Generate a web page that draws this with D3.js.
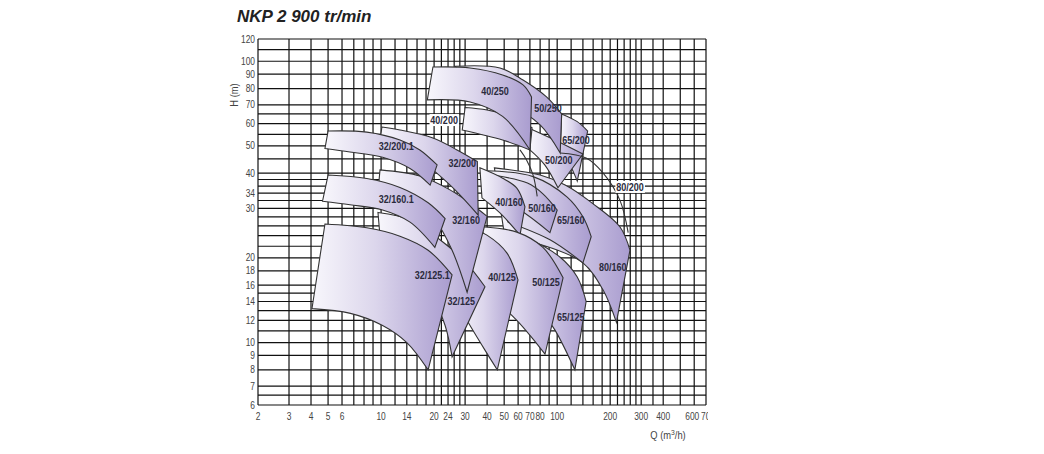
<!DOCTYPE html>
<html><head><meta charset="utf-8">
<script src="https://cdn.jsdelivr.net/npm/d3@7"></script>
<style>
body{margin:0;background:#fff;}
svg{display:block;}
</style></head><body>
<svg id="c" width="1044" height="454"></svg>
<script>
// ---------- data ----------
const title = "NKP 2 900 tr/min";
const xTickLabels = [2,3,4,5,6,10,14,20,24,30,40,50,60,70,80,100,200,300,400,600,700];
const xGrid = [2,3,4,5,6,7,8,9,10,12,14,16,18,20,22,24,26,28,30,40,50,60,70,80,90,100,120,140,160,180,200,220,240,260,280,300,350,400,500,600,700];
const yTickLabels = [6,7,8,9,10,12,14,16,18,20,30,34,40,50,60,70,80,90,100,120];
const yGrid = [6,6.5,7,8,9,10,11,12,13,14,15,16,18,20,22,24,26,28,30,32,34,36,38,40,45,50,55,60,65,70,80,90,100,110,120];

// pump tiles, in drawing order: [Q (m3/h), H (m)] along the upper and lower curves
const pumpNames = ["80/160","65/160","50/160","40/160","65/125","50/125","40/125","32/125","32/125.1",
  "32/160","32/160.1","32/200","32/200.1","65/200","50/200","40/200","50/250","40/250"];
const pumpTop = [
  [[44,41.8],[80,39.4],[111,36.3],[156,31.5],[227,25.8],[259,21.3]],
  [[39.9,40.8],[73,38.9],[114,32.9],[140,28.0],[156,23.8]],
  [[43,39.4],[67.8,36.9],[83,33.8],[100,29.6]],
  [[36.4,41.8],[49,38.4],[59,35.4],[65.6,30.4]],
  [[44.3,25.1],[70,23.2],[104,20.1],[130,17.1],[146,14.0]],
  [[37.4,25.8],[59,24.7],[83,21.8],[108,17.0]],
  [[29.2,26.2],[39.9,24.1],[51.9,20.8],[59.9,16.7]],
  [[9.6,29.0],[14.6,27.3],[21.6,23.2],[30.0,19.4],[38.9,15.8]],
  [[4.8,26.4],[8.3,25.6],[12.8,23.9],[18.5,21.3],[25.3,17.4]],
  [[9.86,41.1],[16.6,39.1],[24.6,34.9],[32.9,30.9],[40,28.1]],
  [[5.0,39.4],[8.3,38.3],[12.8,35.6],[18.5,31.4],[23.1,27.6]],
  [[10.1,58.4],[12.8,57],[19.7,53.4],[27,48.4],[35.2,44]],
  [[5.0,56.5],[8.3,56],[12.8,52.5],[16.6,48.4],[20.8,42.8]],
  [[106,65],[130,61],[149,56.5]],
  [[70.8,57.5],[97,52.5],[140,46.8]],
  [[30,68.5],[40,67.1],[56,63.3],[72,58]],
  [[26.3,96],[47.3,94.7],[64,85.8],[87,74.7],[106,65]],
  [[19.7,95.4],[32,94.7],[49,89.4],[64,82.4],[71.5,74.7]]
];
const pumpBottom = [
  [[50.5,23.5],[83,22.2],[140,19.2],[182,15.4],[217,11.8]],
  [[52.6,26.8],[91,23.2],[140,19.2]],
  [[44.3,32.7],[61.5,29.6],[91,24.6]],
  [[37.4,32.7],[47.3,28.9],[61.5,24.1]],
  [[61,16.5],[80,13.1],[97,11.1],[126,8.0]],
  [[44.3,14.2],[59,12],[72,10.4],[85.3,9.1]],
  [[26.3,14.2],[32,11.5],[38.9,9.4],[45.7,8.0]],
  [[9.9,23.2],[14.6,19.4],[19.0,15.2],[23.1,11.5],[25.3,8.9]],
  [[4.05,13.2],[6.7,12.7],[10.2,11.5],[14.0,10.0],[18.5,8.0]],
  [[9.6,34.3],[14.6,32.1],[20.2,27.3],[25.3,21.3],[30.8,15.1]],
  [[4.65,31.8],[6.66,30.9],[10.2,29.6],[14.6,26.8],[20.2,21.8]],
  [[9.86,51.7],[14.6,47.6],[19.7,41.1],[26.3,34.9],[35.6,28.4]],
  [[4.8,49],[6.66,47.6],[10.2,45.6],[14.6,41.6],[19.0,36.3]],
  [[104,47.2],[118,42.8],[130,37.5]],
  [[70,48.4],[85,42.8],[101,35.5]],
  [[28.9,57],[49,52.5],[70,48.4]],
  [[36.4,75.9],[53.9,69.9],[80,59.4],[104,47.2]],
  [[18.3,72.9],[32,71.7],[49,63.7],[70.1,48.4]]
];
// outline-only curves
const arcNames = ["80/200","40/200 ext"];
const arcPoints = [
  [[104,47.2],[146,45.3],[182,40.1],[227,32.1],[253,24.6]],
  [[61.5,48.4],[67,44.6],[73,39.4],[77,33.1]]
];
// label positions [Q, H]
const labelNames = ["40/250","50/250","40/200","65/200","50/200","32/200.1","32/200","80/200","32/160.1","40/160",
  "50/160","32/160","65/160","32/125.1","40/125","50/125","80/160","32/125","65/125"];
const labelPos = [[44.3,78.4],[88.6,68.4],[22.8,61.9],[128,52.5],[102,44.6],[12.2,49.8],[28.9,43.5],[259,35.8],[12.2,32.4],[53.2,31.5],
  [82,30.2],[30.4,27.3],[119.5,27.3],[19.5,17.4],[48.6,17.1],[86.4,16.4],[207,18.6],[28.5,14.0],[119.5,12.3]];
const boxedLabels = ["40/200","80/200"];

// ---------- drawing ----------
const svg = d3.select("#c");
const x = d3.scaleLog().domain([2,700]).range([258,706]);
const y = d3.scaleLog().domain([6,120]).range([405,39]);

const defs = svg.append("defs");
const grad = defs.append("linearGradient").attr("id","tileGrad").attr("x1",0).attr("x2",1).attr("y1",0).attr("y2",0);
grad.append("stop").attr("offset","0%").attr("stop-color","#f8f7fc");
grad.append("stop").attr("offset","45%").attr("stop-color","#dcd6ec");
grad.append("stop").attr("offset","100%").attr("stop-color","#a99ccf");
defs.append("clipPath").attr("id","axClip").append("rect").attr("x",0).attr("y",0).attr("width",708).attr("height",454);

// title
svg.append("text").attr("x",237).attr("y",22).text(title)
  .attr("font-family","Liberation Sans, Arial, sans-serif").attr("font-weight","bold").attr("font-style","italic")
  .attr("font-size",17).attr("fill","#222");

// grid
const g = svg.append("g");
g.selectAll("line.v").data(xGrid).join("line").attr("class","v")
  .attr("x1",d=>x(d)).attr("x2",d=>x(d)).attr("y1",y(120)).attr("y2",y(6))
  .attr("stroke","#111").attr("stroke-width",1.2);
g.selectAll("line.h").data(yGrid).join("line").attr("class","h")
  .attr("x1",x(2)).attr("x2",x(700)).attr("y1",d=>y(d)).attr("y2",d=>y(d))
  .attr("stroke","#111").attr("stroke-width",1.2);

// axes tick labels (condensed look)
const tickFont = "Liberation Sans, Arial, sans-serif";
const lastX = xTickLabels[xTickLabels.length-1];
const prevX = xTickLabels[xTickLabels.length-2];
svg.append("g").attr("clip-path","url(#axClip)").selectAll("text").data(xTickLabels).join("text")
  .attr("transform",d=>`translate(${x(d)+(d===lastX?2:(d===prevX?-2:0))},420) scale(0.8,1)`)
  .attr("text-anchor","middle").text(d=>d)
  .attr("font-family",tickFont).attr("font-size",10.5).attr("fill","#444");
svg.append("g").selectAll("text").data(yTickLabels).join("text")
  .attr("transform",d=>`translate(255,${y(d)+3.5}) scale(0.8,1)`)
  .attr("text-anchor","end").text(d=>d)
  .attr("font-family",tickFont).attr("font-size",10.5).attr("fill","#444");
svg.append("text").attr("transform","translate(238,95) rotate(-90) scale(0.85,1)").attr("text-anchor","middle")
  .text("H (m)").attr("font-family",tickFont).attr("font-size",11).attr("fill","#444");
const qt = svg.append("text").attr("transform","translate(668,439) scale(0.85,1)").attr("text-anchor","middle")
  .attr("font-family",tickFont).attr("font-size",11).attr("fill","#444");
qt.append("tspan").text("Q (m");
qt.append("tspan").text("3").attr("font-size",8).attr("dy",-4);
qt.append("tspan").text("/h)").attr("dy",4);

// tiles
const lineC = d3.line().x(d=>x(d[0])).y(d=>y(d[1])).curve(d3.curveCatmullRom.alpha(0.5));
function tilePath(top,bottom){
  const t = lineC(top);
  const b = lineC(bottom.slice().reverse());
  return t + "L" + b.slice(1) + "Z";
}
const tiles = pumpNames.map((n,i)=>({name:n, top:pumpTop[i], bottom:pumpBottom[i]}));
svg.append("g").selectAll("path").data(tiles).join("path")
  .attr("d",d=>tilePath(d.top,d.bottom))
  .attr("fill","url(#tileGrad)").attr("stroke","#333").attr("stroke-width",1.1).attr("stroke-linejoin","miter");

svg.append("g").selectAll("path").data(arcPoints).join("path")
  .attr("d",d=>lineC(d)).attr("fill","none").attr("stroke","#333").attr("stroke-width",1.1);

// labels
const lg = svg.append("g");
labelNames.forEach((n,i)=>{
  const p = labelPos[i];
  const gg = lg.append("g").attr("transform",`translate(${x(p[0])},${y(p[1])+4}) scale(0.82,1)`);
  const t = gg.append("text").attr("text-anchor","middle").text(n)
    .attr("font-family",tickFont).attr("font-weight","bold").attr("font-size",11).attr("fill","#2a2a3c");
  if(boxedLabels.includes(n)){
    const bb = t.node().getBBox();
    gg.insert("rect","text").attr("x",bb.x-1).attr("y",bb.y).attr("width",bb.width+2).attr("height",bb.height).attr("fill","#fff");
  }
});
</script>
</body></html>
